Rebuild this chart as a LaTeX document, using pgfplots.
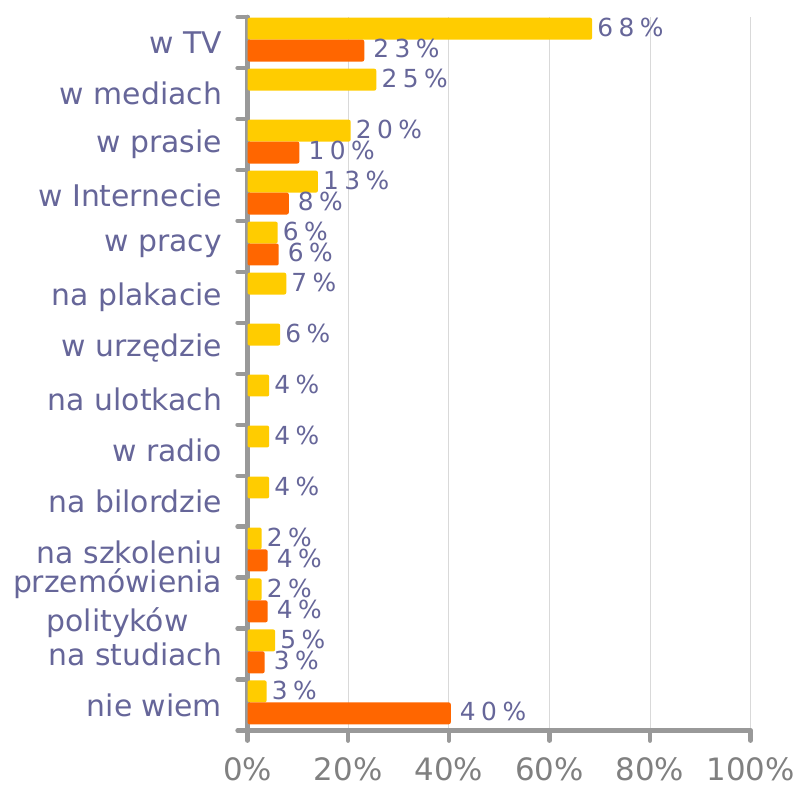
\documentclass[border=0pt]{standalone}
\usepackage{fontspec}
\setmainfont{DejaVu Sans}
\usepackage{pgfplots}
\pgfplotsset{compat=1.18}
\definecolor{barY}{HTML}{FFCC00}
\definecolor{barO}{HTML}{FF6600}
\definecolor{catlab}{HTML}{666699}
\definecolor{axgray}{HTML}{999999}
\definecolor{ticklab}{HTML}{808080}
\definecolor{gridgray}{HTML}{D9D9D9}

\begin{document}
\begin{tikzpicture}
\begin{axis}[
 at={(0,0)},anchor=south west,
 scale only axis,width=504bp,height=715bp,
 xmin=0,xmax=100,ymin=-0.5,ymax=13.5,
 axis lines*=left,
 axis line style={draw=axgray,line width=4.5bp,line cap=round,-},
 xtick={0,20,...,100},
 xticklabels={0\%,20\%,40\%,60\%,80\%,100\%},
 ytick={0,...,13},
 yticklabels={nie wiem,na studiach,przemówienia\\polityków,na szkoleniu,na bilordzie,w radio,na ulotkach,w urzędzie,na plakacie,w pracy,w Internecie,w prasie,w mediach,w TV},
 minor ytick={-0.5,0.5,...,13.5},
 tick align=outside,
 major tick length=10bp,minor tick length=10bp,
 tick style={draw=axgray,line width=4.5bp,line cap=round},
 major y tick style={draw=none},
 xmajorgrids,
 major x grid style={draw=gridgray,line width=1bp},
 xticklabel style={font=\fontsize{31}{36}\selectfont,text=ticklab,yshift=-13bp},
 yticklabel style={font=\fontsize{30}{40}\selectfont,text=catlab,align=center,xshift=-12bp},
 xbar,bar width=0.43,
 point meta=explicit symbolic,
 nodes near coords={\pgfplotspointmeta\%},
 nodes near coords align={horizontal},
 every node near coord/.append style={anchor=west,font=\fontsize{25}{28}\selectfont\addfontfeature{LetterSpace=22},text=catlab,inner sep=0pt},
 ]
\addplot[draw=none,fill=barY,rounded corners=2bp,bar shift=0.27,
 every node near coord/.append style={xshift=5bp,yshift=1bp}] coordinates {
 (68.5,13) [68] (25.6,12) [25] (20.5,11) [20] (14.0,10) [13] (6.0,9) [6]
 (7.7,8) [7] (6.5,7) [6] (4.3,6) [4] (4.3,5) [4] (4.3,4) [4]
 (2.8,3) [2] (2.8,2) [2] (5.5,1) [5] (3.8,0) [3]
};
\addplot[draw=none,fill=barO,rounded corners=2bp,bar shift=-0.16,
 every node near coord/.append style={xshift=9bp,yshift=2bp}] coordinates {
 (23.2,13) [23] (10.3,11) [10] (8.2,10) [8] (6.2,9) [6]
 (4.0,3) [4] (4.0,2) [4] (3.4,1) [3] (40.4,0) [40]
};
\end{axis}
\path[use as bounding box] (-248bp,-56bp) rectangle (550bp,732bp);
\end{tikzpicture}
\end{document}
